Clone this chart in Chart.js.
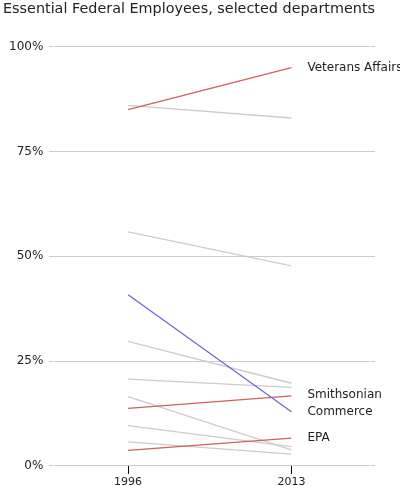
<!DOCTYPE html>
<html>
<head>
<meta charset="utf-8">
<script src="https://cdn.jsdelivr.net/npm/chart.js"></script>
<style>
  html, body { margin: 0; padding: 0; background: #fff; }
  #wrap { width: 400px; height: 486px; }
</style>
</head>
<body>
<div id="wrap"><canvas id="chart"></canvas></div>
<script>
const years = [1996, 2013];
const departments = ['Veterans Affairs', '', '', 'Commerce', '', '', 'Smithsonian', '', '', '', 'EPA'];
const start = [85, 86, 55.8, 40.8, 29.7, 20.7, 13.7, 16.5, 9.6, 5.7, 3.7];
const end = [95, 83, 47.7, 12.9, 19.7, 18.7, 16.7, 3.8, 4.6, 2.8, 6.6];
const colors = ['#d0605e', '#cccccc', '#cccccc', '#6a6ad8', '#cccccc', '#cccccc', '#d0605e', '#cccccc', '#cccccc', '#cccccc', '#d0605e'];
const yTicks = [0, 25, 50, 75, 100];

const datasets = departments.map((d, i) => ({
  label: d,
  data: [{x: years[0], y: start[i]}, {x: years[1], y: end[i]}],
  borderColor: colors[i],
  borderWidth: 1.3,
  pointRadius: 0,
  order: colors[i] === '#cccccc' ? 2 : 1
}));

const labelPlugin = {
  id: 'labels',
  afterDatasetsDraw(chart) {
    const c = chart.ctx;
    c.save();
    c.font = '12px "DejaVu Sans"';
    c.fillStyle = '#222';
    c.textBaseline = 'middle';
    const xs = chart.scales.x, ys = chart.scales.y;
    const offs = {'Commerce': 0, 'Smithsonian': -1};
    departments.forEach((d, i) => {
      if (!d) return;
      c.fillText(d, xs.getPixelForValue(years[1]) + 16, ys.getPixelForValue(end[i]) + (offs[d] || 0));
    });
    c.restore();
  }
};

new Chart(document.getElementById('chart'), {
  type: 'line',
  data: { datasets },
  plugins: [labelPlugin],
  options: {
    responsive: true,
    maintainAspectRatio: false,
    animation: false,
    layout: { padding: { left: 3, right: 25, top: 0, bottom: -5 } },
    plugins: {
      legend: { display: false },
      tooltip: { enabled: false },
      title: {
        display: true, text: 'Essential Federal Employees, selected departments',
        align: 'start', color: '#222',
        font: { family: 'DejaVu Sans', size: 14.8, weight: 'normal' },
        padding: { top: 0, bottom: 29 }
      }
    },
    scales: {
      x: {
        type: 'linear', min: 1987.8, max: 2021.7,
        afterBuildTicks: s => { s.ticks = years.map(v => ({value: v})); },
        grid: { display: true, drawOnChartArea: false, color: '#000', tickLength: 8 },
        border: { display: false },
        ticks: { color: '#222', font: { family: 'DejaVu Sans', size: 11 }, callback: v => String(v), padding: 2 }
      },
      y: {
        min: 0, max: 100,
        afterBuildTicks: s => { s.ticks = yTicks.map(v => ({value: v})); },
        grid: { color: '#cccccc', drawTicks: false },
        border: { display: false },
        ticks: { color: '#222', font: { family: 'DejaVu Sans', size: 12 }, callback: v => v + '%', padding: 6 }
      }
    }
  }
});
</script>
</body>
</html>
